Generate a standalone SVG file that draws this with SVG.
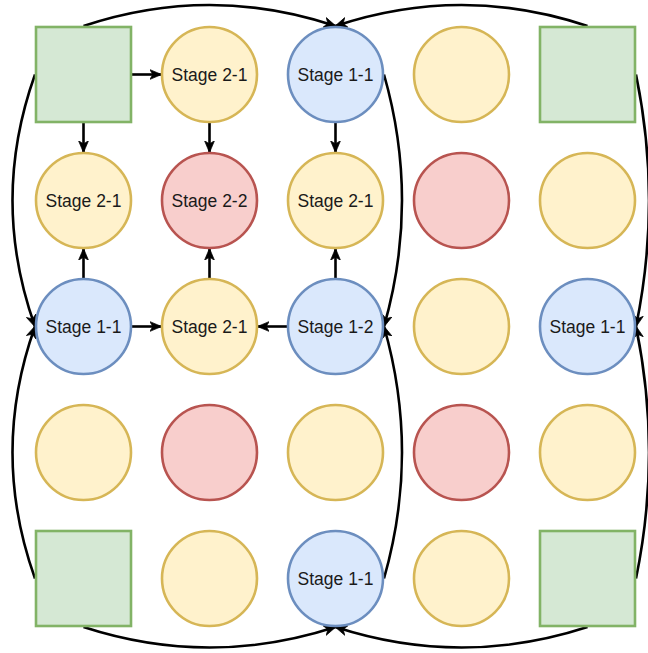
<svg xmlns="http://www.w3.org/2000/svg" width="648" height="653" viewBox="0 0 648 653">
<style>
.blue{fill:#dae8fc;stroke:#6c8ebf;stroke-width:2.6}
.yellow{fill:#fff2cc;stroke:#d6b656;stroke-width:2.6}
.red{fill:#f8cecc;stroke:#b85450;stroke-width:2.6}
.green{fill:#d5e8d4;stroke:#82b366;stroke-width:2.6}
.lbl{font-family:"Liberation Sans",Arial,sans-serif;font-size:17.5px;fill:#1a1a1a;text-anchor:middle}
.edge{fill:none;stroke:#000;stroke-width:2.6;marker-end:url(#arr)}
</style>
<defs>
<marker id="arr" viewBox="0 0 10 10" refX="9.5" refY="5" markerWidth="12" markerHeight="12" markerUnits="userSpaceOnUse" orient="auto">
<path d="M0,0.8 L10,5 L0,9.2 L2.8,5 Z" fill="#000" stroke="#000" stroke-width="0.6" stroke-linejoin="miter"/>
</marker>
</defs>
<g id="connectors">
<path class="edge" d="M83.5,26 Q209.5,-16 335.5,26"/>
<path class="edge" d="M587.5,26 Q461.5,-16 335.5,26"/>
<path class="edge" d="M35,74.5 Q-10,200.5 35,326.5"/>
<path class="edge" d="M35,578.5 Q-10,452.5 35,326.5"/>
<path class="edge" d="M384,74.5 Q420,200.5 384,326.5"/>
<path class="edge" d="M384,578.5 Q420,452.5 384,326.5"/>
<path class="edge" d="M636,74.5 Q662,200.5 636,326.5"/>
<path class="edge" d="M636,578.5 Q662,452.5 636,326.5"/>
<path class="edge" d="M83.5,627 Q209.5,668 335.5,627"/>
<path class="edge" d="M587.5,627 Q461.5,668 335.5,627"/>
<path class="edge" d="M132,74.5 L161,74.5"/>
<path class="edge" d="M83.5,123 L83.5,152"/>
<path class="edge" d="M209.5,123 L209.5,152"/>
<path class="edge" d="M335.5,123 L335.5,152"/>
<path class="edge" d="M83.5,278 L83.5,249"/>
<path class="edge" d="M132,326.5 L161,326.5"/>
<path class="edge" d="M209.5,278 L209.5,249"/>
<path class="edge" d="M287,326.5 L258,326.5"/>
<path class="edge" d="M335.5,278 L335.5,249"/>
</g>
<!-- row 1 -->
<g id="sq-tl"><rect class="green" x="36" y="27" width="95" height="95"/></g>
<g id="n-1-2"><circle class="yellow" cx="209.5" cy="74.5" r="47.5"/><text class="lbl" x="209.5" y="80.5">Stage 2-1</text></g>
<g id="n-1-3"><circle class="blue" cx="335.5" cy="74.5" r="47.5"/><text class="lbl" x="335.5" y="80.5">Stage 1-1</text></g>
<g id="n-1-4"><circle class="yellow" cx="461.5" cy="74.5" r="47.5"/></g>
<g id="sq-tr"><rect class="green" x="540" y="27" width="95" height="95"/></g>
<!-- row 2 -->
<g id="n-2-1"><circle class="yellow" cx="83.5" cy="200.5" r="47.5"/><text class="lbl" x="83.5" y="206.5">Stage 2-1</text></g>
<g id="n-2-2"><circle class="red" cx="209.5" cy="200.5" r="47.5"/><text class="lbl" x="209.5" y="206.5">Stage 2-2</text></g>
<g id="n-2-3"><circle class="yellow" cx="335.5" cy="200.5" r="47.5"/><text class="lbl" x="335.5" y="206.5">Stage 2-1</text></g>
<g id="n-2-4"><circle class="red" cx="461.5" cy="200.5" r="47.5"/></g>
<g id="n-2-5"><circle class="yellow" cx="587.5" cy="200.5" r="47.5"/></g>
<!-- row 3 -->
<g id="n-3-1"><circle class="blue" cx="83.5" cy="326.5" r="47.5"/><text class="lbl" x="83.5" y="332.5">Stage 1-1</text></g>
<g id="n-3-2"><circle class="yellow" cx="209.5" cy="326.5" r="47.5"/><text class="lbl" x="209.5" y="332.5">Stage 2-1</text></g>
<g id="n-3-3"><circle class="blue" cx="335.5" cy="326.5" r="47.5"/><text class="lbl" x="335.5" y="332.5">Stage 1-2</text></g>
<g id="n-3-4"><circle class="yellow" cx="461.5" cy="326.5" r="47.5"/></g>
<g id="n-3-5"><circle class="blue" cx="587.5" cy="326.5" r="47.5"/><text class="lbl" x="587.5" y="332.5">Stage 1-1</text></g>
<!-- row 4 -->
<g id="n-4-1"><circle class="yellow" cx="83.5" cy="452.5" r="47.5"/></g>
<g id="n-4-2"><circle class="red" cx="209.5" cy="452.5" r="47.5"/></g>
<g id="n-4-3"><circle class="yellow" cx="335.5" cy="452.5" r="47.5"/></g>
<g id="n-4-4"><circle class="red" cx="461.5" cy="452.5" r="47.5"/></g>
<g id="n-4-5"><circle class="yellow" cx="587.5" cy="452.5" r="47.5"/></g>
<!-- row 5 -->
<g id="sq-bl"><rect class="green" x="36" y="531" width="95" height="95"/></g>
<g id="n-5-2"><circle class="yellow" cx="209.5" cy="578.5" r="47.5"/></g>
<g id="n-5-3"><circle class="blue" cx="335.5" cy="578.5" r="47.5"/><text class="lbl" x="335.5" y="584.5">Stage 1-1</text></g>
<g id="n-5-4"><circle class="yellow" cx="461.5" cy="578.5" r="47.5"/></g>
<g id="sq-br"><rect class="green" x="540" y="531" width="95" height="95"/></g>
</svg>
